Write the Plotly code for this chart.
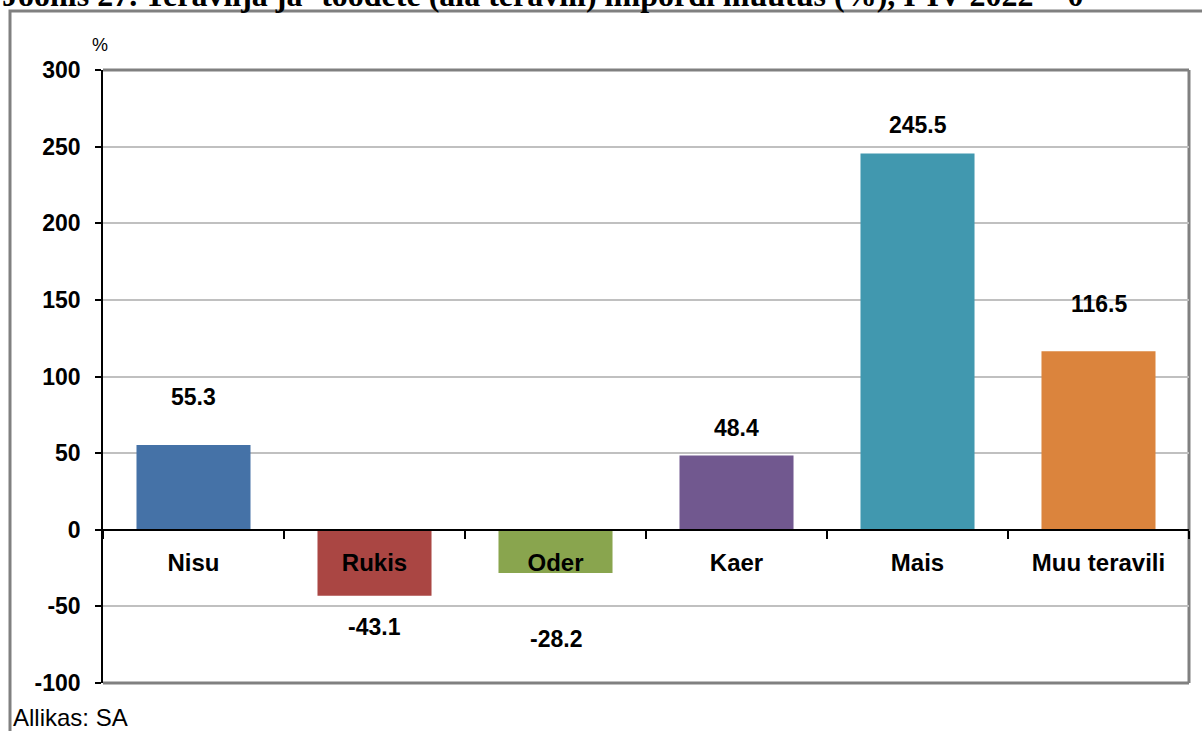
import plotly.graph_objects as go

categories = ["Nisu", "Rukis", "Oder", "Kaer", "Mais", "Muu teravili"]
values = [55.3, -43.1, -28.2, 48.4, 245.5, 116.5]
value_labels = ["55.3", "-43.1", "-28.2", "48.4", "245.5", "116.5"]
y_ticks = [-100, -50, 0, 50, 100, 150, 200, 250, 300]
y_tick_text = ["-100", "-50", "0", "50", "100", "150", "200", "250", "300"]

colors = ["#4572A7", "#AA4643", "#89A54E", "#71588F", "#4198AF", "#DB843D"]
label_shift_px = [48, -31, -66, 28, 29, 47]

W, H = 1202, 731
L, R, T, B = 103, 13, 70, 48
pw, ph = W - L - R, H - T - B

def px_x(px):
    return (px - L) / pw

def px_y(py):
    return (H - B - py) / ph

FONT = "Liberation Sans, Arial, Helvetica, sans-serif"

fig = go.Figure()
fig.add_trace(go.Bar(
    x=categories, y=values,
    marker=dict(color=colors, line=dict(width=0)),
    width=0.63,
    hoverinfo="x+y",
))

annotations = []
for c, v, t, s in zip(categories, values, value_labels, label_shift_px):
    annotations.append(dict(
        x=c, y=v, xref="x", yref="y", text=f"<b>{t}</b>", showarrow=False,
        yshift=s, yanchor="middle", xanchor="center",
        font=dict(family=FONT, size=23, color="#000000"),
    ))

annotations.append(dict(
    x=px_x(100), y=px_y(45), xref="paper", yref="paper", text="%",
    showarrow=False, xanchor="center", yanchor="middle",
    font=dict(family=FONT, size=18, color="#000000"),
))
annotations.append(dict(
    x=px_x(11), y=px_y(717), xref="paper", yref="paper", text="Allikas: SA",
    showarrow=False, xanchor="left", yanchor="middle",
    font=dict(family=FONT, size=24, color="#000000"),
))
annotations.append(dict(
    x=px_x(0), y=px_y(-5), xref="paper", yref="paper",
    text="<b>Joonis 27. Teravilja ja -toodete (ala teravili) impordi muutus (%), I-IV 2022 = 0</b>",
    showarrow=False, xanchor="left", yanchor="middle",
    font=dict(family="Liberation Serif, Times New Roman, serif", size=32, color="#000000"),
))

gray = "#808080"
shapes = [
    dict(type="rect", xref="paper", yref="paper",
         x0=px_x(10), x1=px_x(1215), y0=px_y(745), y1=px_y(11),
         line=dict(color=gray, width=3), fillcolor="rgba(0,0,0,0)", layer="below"),
    dict(type="line", xref="paper", yref="paper", x0=0, x1=1, y0=1, y1=1,
         line=dict(color=gray, width=3), layer="below"),
    dict(type="line", xref="paper", yref="paper", x0=1, x1=1, y0=0, y1=1,
         line=dict(color=gray, width=3), layer="below"),
    dict(type="line", xref="paper", yref="paper", x0=0, x1=1, y0=0, y1=0,
         line=dict(color=gray, width=3), layer="below"),
]

fig.update_layout(
    width=W, height=H,
    margin=dict(l=L, r=R, t=T, b=B),
    paper_bgcolor="white", plot_bgcolor="white",
    showlegend=False,
    bargap=0.37,
    annotations=annotations,
    shapes=shapes,
    xaxis=dict(
        type="category",
        anchor="free", position=(0 - (-100)) / 400,
        showline=True, linecolor="#000000", linewidth=2,
        ticks="outside", tickson="boundaries", ticklen=8, tickcolor="#000000", tickwidth=1.5,
        ticklabelstandoff=11,
        tickfont=dict(family=FONT, size=24, color="#000000", weight="bold"),
        showgrid=False, zeroline=False,
    ),
    yaxis=dict(
        range=[-100, 300], tickvals=y_ticks, ticktext=y_tick_text,
        showline=True, linecolor="#000000", linewidth=1.5,
        ticks="outside", ticklen=6, tickcolor="#000000", tickwidth=1.5,
        ticklabelstandoff=10,
        tickfont=dict(family=FONT, size=23, color="#000000", weight="bold"),
        showgrid=True, gridcolor="#c0c0c0", gridwidth=2,
        zeroline=False,
    ),
)

fig.write_html("out.html", config={"displayModeBar": False})

with open("out.html", "r", encoding="utf-8") as f:
    html = f.read()
html = html.replace("<head>", "<head><style>html,body{margin:0;padding:0;overflow:hidden;}</style>", 1)
with open("out.html", "w", encoding="utf-8") as f:
    f.write(html)
